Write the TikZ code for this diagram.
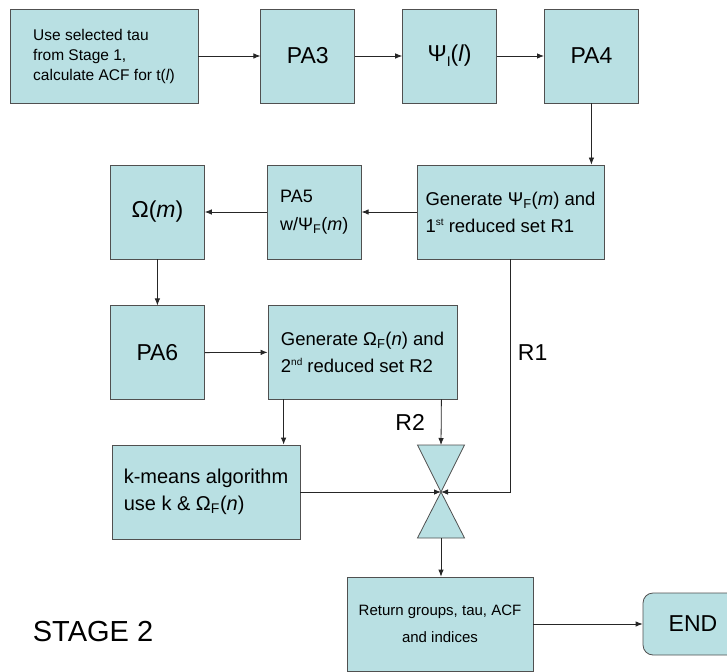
\documentclass[tikz,border=0pt]{standalone}
\usepackage{fontspec}
\setmainfont{Liberation Sans}
\usetikzlibrary{arrows.meta,positioning}
\definecolor{boxfill}{RGB}{185,224,227}
\definecolor{boxline}{RGB}{80,80,80}
\newcommand{\supsm}[1]{\raisebox{0.65ex}{\fontsize{10}{10}\selectfont #1}}

\begin{document}
\begin{tikzpicture}[
    x=1pt, y=-1pt,
    box/.style={rectangle, draw=boxline, fill=boxfill, line width=0.8pt, minimum width=94pt, minimum height=94pt, inner sep=2pt},
    bigtext/.style={font=\fontsize{23}{27}\selectfont},
    midtext/.style={font=\fontsize{18.5}{27}\selectfont},
    smalltext/.style={font=\fontsize{15.5}{20}\selectfont},
    label/.style={bigtext, inner sep=0pt},
    arrow/.style={-{Latex[length=7pt,width=5.5pt]}, line width=0.8pt, draw=black!85}
]
    \useasboundingbox (0,0) rectangle (727,671);

    % Row 1
    \node[box, smalltext, minimum width=188pt, align=left] (start) at (104,56) {Use selected tau\\from Stage 1,\\calculate ACF for t(\textit{l})};
    \node[box, bigtext, right=62pt of start] (pa3) {PA3};
    \node[box, bigtext, right=47pt of pa3] (psiI) {Ψ\raisebox{-0.35ex}{\fontsize{14}{14}\selectfont I}(\textit{l})};
    \node[box, bigtext, right=47pt of psiI] (pa4) {PA4};

    % Row 2
    \node[box, midtext, minimum width=187pt, align=left] (genpsi) at (510.5,212) {Generate Ψ\textsubscript{F}(\textit{m}) and\\1\supsm{st} reduced set R1};
    \node[box, font=\fontsize{18}{28}\selectfont, align=left, left=55pt of genpsi] (pa5) {PA5\\w/Ψ\textsubscript{F}(\textit{m})};
    \node[box, bigtext, left=62pt of pa5] (omega) {Ω(\textit{m})};

    % Row 3
    \node[box, bigtext, below=46pt of omega] (pa6) {PA6};
    \node[box, midtext, minimum width=189pt, align=left] (genomega) at (362.5,352) {Generate Ω\textsubscript{F}(\textit{n}) and\\2\supsm{nd} reduced set R2};

    % Row 4
    \node[box, font=\fontsize{20}{27}\selectfont, minimum width=188pt, align=left] (kmeans) at (206,492) {k-means algorithm\\use k \& Ω\textsubscript{F}(\textit{n})};
    \coordinate (merge) at (441,492);
    \coordinate (mergetop) at (441,445);
    \coordinate (mergebot) at (441,538);
    \draw[draw=boxline, fill=boxfill, line width=0.8pt] (merge) -- ++(-23.5,-47) -- ++(47,0) -- cycle;
    \draw[draw=boxline, fill=boxfill, line width=0.8pt] (merge) -- ++(-23.5,46) -- ++(47,0) -- cycle;

    % Results
    \node[box, font=\fontsize{15}{27}\selectfont, minimum width=186pt, align=center] (ret) at (440,624) {Return groups, tau, ACF\\and indices};
    \node[box, bigtext, rounded corners=10pt, minimum width=100pt, minimum height=62pt] (end) at (693,624) {END};
    \node[font=\fontsize{29}{33}\selectfont, inner sep=0pt] (stage) at (93,632) {STAGE 2};

    % Edges
    \draw[arrow] (start) -- (pa3);
    \draw[arrow] (pa3) -- (psiI);
    \draw[arrow] (psiI) -- (pa4);
    \draw[arrow] (pa4) -- (pa4 |- genpsi.north);
    \draw[arrow] (genpsi) -- (pa5);
    \draw[arrow] (pa5) -- (omega);
    \draw[arrow] (omega) -- (pa6);
    \draw[arrow] (pa6) -- (genomega);
    \draw[arrow] ([xshift=16pt]genomega.south west) -- ([xshift=16pt]genomega.south west |- kmeans.north);
    \draw[arrow] ([xshift=-16pt]genomega.south east) -- node[label, left=16pt] (r2) {R2} (mergetop);
    \draw[arrow] (genpsi.south) |- node[label, pos=0.2, right=7pt] (r1) {R1} (merge);
    \draw[arrow] (kmeans) -- (merge);
    \draw[arrow] (mergebot) -- (mergebot |- ret.north);
    \draw[arrow] (ret) -- (end);
\end{tikzpicture}
\end{document}
